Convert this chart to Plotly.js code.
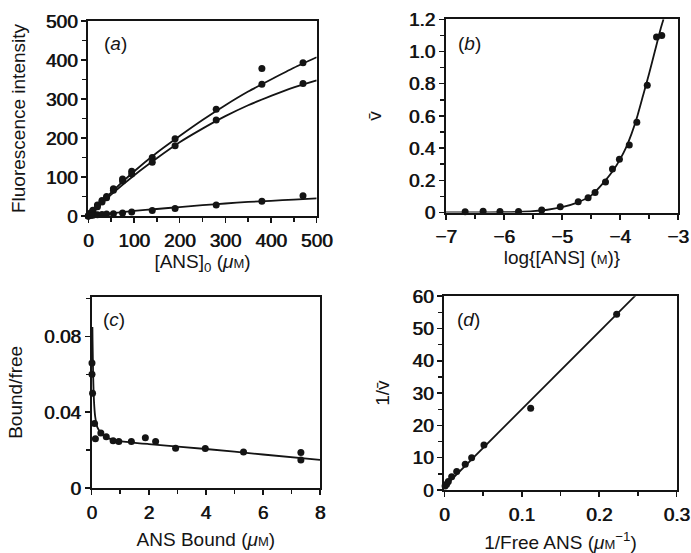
<!DOCTYPE html>
<html>
<head>
<meta charset="utf-8">
<script src="https://cdn.plot.ly/plotly-3.0.1.min.js"></script>
<style>html,body{margin:0;padding:0;background:#fff}</style>
</head>
<body>
<div id="chart" style="width:691px;height:553px"></div>
<script>
// ---------- Panel (a): fluorescence vs [ANS]0 ----------
const aX = [0, 5, 10, 20, 30, 40, 55, 75, 95, 140, 190, 280, 380, 470];
const aUpper = [0, 8, 15, 28, 40, 50, 70, 95, 115, 150, 198, 274, 338, 393];
const aLower = [0, 6, 12, 24, 36, 47, 66, 90, 108, 138, 180, 246, 378, 340];
const aBottom = [0, 1, 2, 3, 4, 5, 6, 8, 10, 14, 19, 28, 38, 52];
const aFitX = [0, 50, 100, 150, 200, 250, 300, 350, 400, 450, 500];
const aFitUpper = [0, 60, 114, 162, 205, 246, 284, 319, 350, 380, 407];
const aFitLower = [0, 55, 104, 148, 189, 224, 256, 284, 308, 330, 348];
const aFitBottom = [0, 7, 13, 18, 23, 28, 32, 36, 39, 42, 45];

// ---------- Panel (b): v-bar vs log[ANS] ----------
const bX = [-6.67, -6.36, -6.07, -5.75, -5.35, -5.03, -4.72, -4.55, -4.43, -4.25, -4.13, -4.01, -3.84, -3.71, -3.53, -3.37, -3.28];
const bY = [0.005, 0.008, 0.006, 0.006, 0.015, 0.035, 0.067, 0.092, 0.125, 0.19, 0.27, 0.33, 0.42, 0.56, 0.79, 1.09, 1.10];
const bFitX = [-7, -6.5, -6, -5.75, -5.5, -5.25, -5, -4.75, -4.5, -4.25, -4.1, -4, -3.9, -3.8, -3.7, -3.6, -3.5, -3.4, -3.3, -3.25];
const bFitY = [0, 0.001, 0.002, 0.004, 0.008, 0.017, 0.033, 0.06, 0.105, 0.2, 0.27, 0.33, 0.4, 0.49, 0.6, 0.73, 0.86, 1.0, 1.14, 1.2];

// ---------- Panel (c): Scatchard plot ----------
const cX = [0.01, 0.01, 0.03, 0.1, 0.13, 0.32, 0.51, 0.75, 0.95, 1.39, 1.88, 2.24, 2.94, 3.98, 5.32, 7.33, 7.33];
const cY = [0.066, 0.060, 0.050, 0.034, 0.026, 0.029, 0.027, 0.025, 0.0245, 0.0245, 0.0265, 0.0245, 0.021, 0.0208, 0.019, 0.0187, 0.0148];
const cFitX = [0.025, 0.03, 0.05, 0.08, 0.12, 0.2, 0.35, 0.6, 1, 2, 4, 6, 8];
const cFitY = [0.085, 0.078, 0.06, 0.046, 0.038, 0.032, 0.0285, 0.0262, 0.0248, 0.0232, 0.0206, 0.0177, 0.0148];

// ---------- Panel (d): double reciprocal ----------
const dX = [0.001, 0.003, 0.0052, 0.0095, 0.016, 0.027, 0.0353, 0.0512, 0.1115, 0.2225];
const dY = [1.2, 1.8, 2.6, 4.1, 5.7, 8.0, 10.0, 13.9, 25.3, 54.4];
const dFitX = [0, 0.25];
const dFitY = [1.0, 61];

// tick labels
const aTicks = [0, 100, 200, 300, 400, 500];
const bXTicks = [-7, -6, -5, -4, -3];
const bYTicks = [0, 0.2, 0.4, 0.6, 0.8, 1.0, 1.2];
const bYText = ['0', '0.2', '0.4', '0.6', '0.8', '1.0', '1.2'];
const cXTicks = [0, 2, 4, 6, 8];
const cYTicks = [0, 0.04, 0.08];
const cYText = ['0', '0.04', '0.08'];
const dXTicks = [0, 0.1, 0.2, 0.3];
const dXText = ['0', '0.1', '0.2', '0.3'];
const dYTicks = [0, 10, 20, 30, 40, 50, 60];

const FONT = 'Liberation Sans, Arial, Helvetica, sans-serif';
const INK = '#141414';
const SC = "<span style='font-size:13px'>M</span>";

function pts(x, y, xa, ya) {
  return {x: x, y: y, xaxis: xa, yaxis: ya, mode: 'markers', type: 'scatter',
          marker: {color: INK, size: 7, symbol: 'circle'}, hoverinfo: 'skip', cliponaxis: false};
}
function fit(x, y, xa, ya) {
  return {x: x, y: y, xaxis: xa, yaxis: ya, mode: 'lines', type: 'scatter',
          line: {color: INK, width: 1.8, shape: 'spline', smoothing: 0.6}, hoverinfo: 'skip'};
}

const data = [
  fit(aFitX, aFitUpper, 'x', 'y'), fit(aFitX, aFitLower, 'x', 'y'), fit(aFitX, aFitBottom, 'x', 'y'),
  pts(aX, aUpper, 'x', 'y'), pts(aX, aLower, 'x', 'y'), pts(aX, aBottom, 'x', 'y'),
  fit(bFitX, bFitY, 'x2', 'y2'), pts(bX, bY, 'x2', 'y2'),
  fit(cFitX, cFitY, 'x3', 'y3'), pts(cX, cY, 'x3', 'y3'),
  fit(dFitX, dFitY, 'x4', 'y4'), pts(dX, dY, 'x4', 'y4')
];

function axis(domain, range, tickvals, ticktext, minorDtick, title, anchor, standoff, isX) {
  const o = {
    domain: domain, range: range, anchor: anchor,
    showline: true, linecolor: INK, linewidth: 2, mirror: true,
    ticks: 'outside', ticklen: 5, tickwidth: 1.5, tickcolor: INK,
    tickvals: tickvals, showgrid: false, zeroline: false,
    tickfont: {family: FONT, size: 19, color: INK, shadow: '0.7px 0 0 #141414'},
    minor: {ticks: 'outside', dtick: minorDtick, ticklen: 4, tickwidth: 1.5, tickcolor: INK, showgrid: false},
    title: {text: title, font: {family: FONT, size: 19, color: INK}, standoff: standoff},
    fixedrange: true
  };
  if (isX) o.ticklabelstandoff = 1;
  if (ticktext) o.ticktext = ticktext;
  return o;
}

const W = 691, H = 553;
const px = v => v / W, py = v => 1 - v / H;

const layout = {
  width: W, height: H,
  margin: {l: 0, r: 0, t: 0, b: 0},
  paper_bgcolor: '#fff', plot_bgcolor: '#fff',
  showlegend: false,
  xaxis: axis([px(88.3), px(316.7)], [0, 500], aTicks, null, 50, '[ANS]<sub>0</sub> (<i>μ</i>' + SC + ')', 'y', 1, true),
  yaxis: axis([py(216), py(21)], [0, 500], aTicks, null, 50, 'Fluorescence intensity', 'x', 15),
  xaxis2: axis([px(446), px(678)], [-7, -3], bXTicks, null, 0.5, 'log{[ANS] (' + SC + ')}', 'y2', 4, true),
  yaxis2: axis([py(212.5), py(19.3)], [0, 1.2], bYTicks, bYText, 0.1, 'v\u0304', 'x2', 22),
  xaxis3: axis([px(91.7), px(320)], [0, 8], cXTicks, null, 1, 'ANS Bound (<i>μ</i>' + SC + ')', 'y3', 11, true),
  yaxis3: axis([py(488), py(296.7)], [0, 0.101], cYTicks, cYText, 0.02, 'Bound/free', 'x3', 16),
  xaxis4: axis([px(444.3), px(676.7)], [0, 0.3], dXTicks, dXText, 0.05, '1/Free ANS (<i>μ</i>' + SC + '<sup>−1</sup>)', 'y4', 12, true),
  yaxis4: axis([py(490), py(296.2)], [0, 60], dYTicks, null, 5, '1/v\u0304', 'x4', 18),
  annotations: [
    {text: '(<i>a</i>)', x: px(102), y: py(43)},
    {text: '(<i>b</i>)', x: px(456), y: py(43)},
    {text: '(<i>c</i>)', x: px(101), y: py(319)},
    {text: '(<i>d</i>)', x: px(455), y: py(319)}
  ].map(a => Object.assign(a, {xref: 'paper', yref: 'paper', xanchor: 'left', yanchor: 'middle',
        showarrow: false, font: {family: FONT, size: 19, color: INK}}))
};

Plotly.newPlot('chart', data, layout, {staticPlot: true, displayModeBar: false});
</script>
</body>
</html>
